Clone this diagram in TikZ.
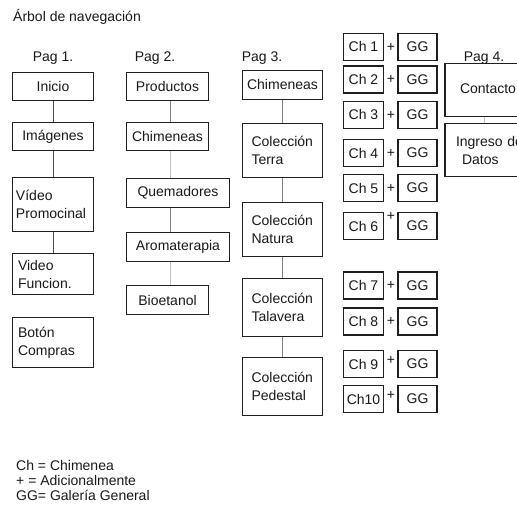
\documentclass[tikz,border=0pt]{standalone}
\usepackage{fontspec}
\setmainfont{Liberation Sans}
\begin{document}
\begin{tikzpicture}[x=1pt,y=-1pt,
  every node/.style={font=\fontsize{14}{18}\selectfont, text=black!90},
  box/.style={draw=black!88, line width=1.7pt, inner sep=0pt, align=center},
  lbox/.style={box, align=left},
  plain/.style={inner sep=0pt},
  darklink/.style={draw=black!70, line width=1pt},
  link/.style={draw=black!50, line width=1pt},
  faint/.style={draw=black!25, line width=1pt}]
\useasboundingbox (0,0) rectangle (517,510);
\fill[white] (0,0) rectangle (517,510);

% title and column headings
\node[plain, anchor=base west] (title) at (13,21.5) {Árbol de navegación};
\node[plain, anchor=base] (h1) at (53,62) {Pag 1.};
\node[plain, anchor=base] (h2) at (155,62) {Pag 2.};
\node[plain, anchor=base] (h3) at (262,61.5) {Pag 3.};
\node[plain, anchor=base] (h4) at (484,62) {Pag 4.};

% column 1
\node[box, minimum width=81, minimum height=28] (inicio) at (53,86.5) {Inicio};
\node[box, minimum width=81, minimum height=28] (imagenes) at (53,136.5) {Imágenes};
\node[lbox, text width=74, minimum width=81, minimum height=54] (videop) at (53,204.5) {Vídeo\\Promocinal};
\node[lbox, text width=70, minimum width=81, minimum height=41] (videof) at (53,274) {Video\\Funcion.};
\node[lbox, text width=70, minimum width=81, minimum height=50] (boton) at (53,342.5) {Botón\\Compras};
\draw[darklink] (inicio) -- (imagenes);
\draw[darklink] (imagenes) -- (videop);
\draw[darklink] (videop) -- (videof);

% column 2
\coordinate (p2x) at (170,0);
\node[box, minimum width=82, minimum height=28] (productos) at (167.5,86.5) {Productos};
\node[box, minimum width=82, minimum height=28] (chim2) at (167.5,136.5) {Chimeneas};
\node[box, minimum width=103, minimum height=29] (quem) at (178,193) {Quemadores};
\node[box, minimum width=103, minimum height=29] (aroma) at (178,247) {Aromaterapia};
\node[box, minimum width=82, minimum height=29] (bio) at (167.5,300) {Bioetanol};
\draw[link] (productos.south -| p2x) -- (chim2.north -| p2x);
\draw[faint] (chim2.south -| p2x) -- (quem.north -| p2x);
\draw[link] (quem.south -| p2x) -- (aroma.north -| p2x);
\draw[faint] (aroma.south -| p2x) -- (bio.north -| p2x);

% column 3
\node[box, minimum width=80, minimum height=29] (chim3) at (282.5,85) {Chimeneas};
\node[lbox, text width=62, minimum width=80, minimum height=54] (terra) at (282.5,150.5) {Colección\\Terra};
\node[lbox, text width=62, minimum width=80, minimum height=54] (natura) at (282.5,229.5) {Colección\\Natura};
\node[lbox, text width=62, minimum width=80, minimum height=58] (talavera) at (282.5,307.5) {Colección\\Talavera};
\node[lbox, text width=62, minimum width=80, minimum height=58] (pedestal) at (282.5,386.5) {Colección\\Pedestal};
\draw[link] (chim3) -- (terra);
\draw[link] (terra) -- (natura);
\draw[link] (natura) -- (talavera);
\draw[link] (talavera) -- (pedestal);

% chimney pages with their general gallery
\foreach \n/\y/\lab/\dy in {1/47/Ch 1/0, 2/79.5/Ch 2/0, 3/115/Ch 3/0, 4/153/Ch 4/0,
    5/188/Ch 5/0, 6/226/Ch 6/10, 7/285.5/Ch 7/0, 8/321.5/Ch 8/0,
    9/364/Ch 9/4, 10/399/Ch10/4} {
  \node[box, minimum width=40, minimum height=27] (ch\n) at (363.5,\y) {\lab};
  \node[box, minimum width=39, minimum height=27] (gg\n) at (417.5,\y) {GG};
  \node[plain] (plus\n) at (391,{\y-\dy}) {+};
}

% column 4, running past the right edge
\begin{scope}
\clip (0,0) rectangle (517,510);
\coordinate (p4x) at (484,0);
\node[lbox, text width=65, minimum width=95, minimum height=53, text depth=3] (contacto) at (492.5,90) {Contacto};
\node[lbox, text width=73, minimum width=95, minimum height=53] (ingreso) at (492.5,150) {Ingreso de\\\hspace*{6pt}Datos};
\draw[faint] (contacto.south -| p4x) -- (ingreso.north -| p4x);
\end{scope}

% key
\node[plain, anchor=base west] (key1) at (16,470.5) {Ch = Chimenea};
\node[plain, anchor=base west] (key2) at (16,485.5) {+ = Adicionalmente};
\node[plain, anchor=base west] (key3) at (16,500.5) {GG= Galería General};
\end{tikzpicture}
\end{document}
